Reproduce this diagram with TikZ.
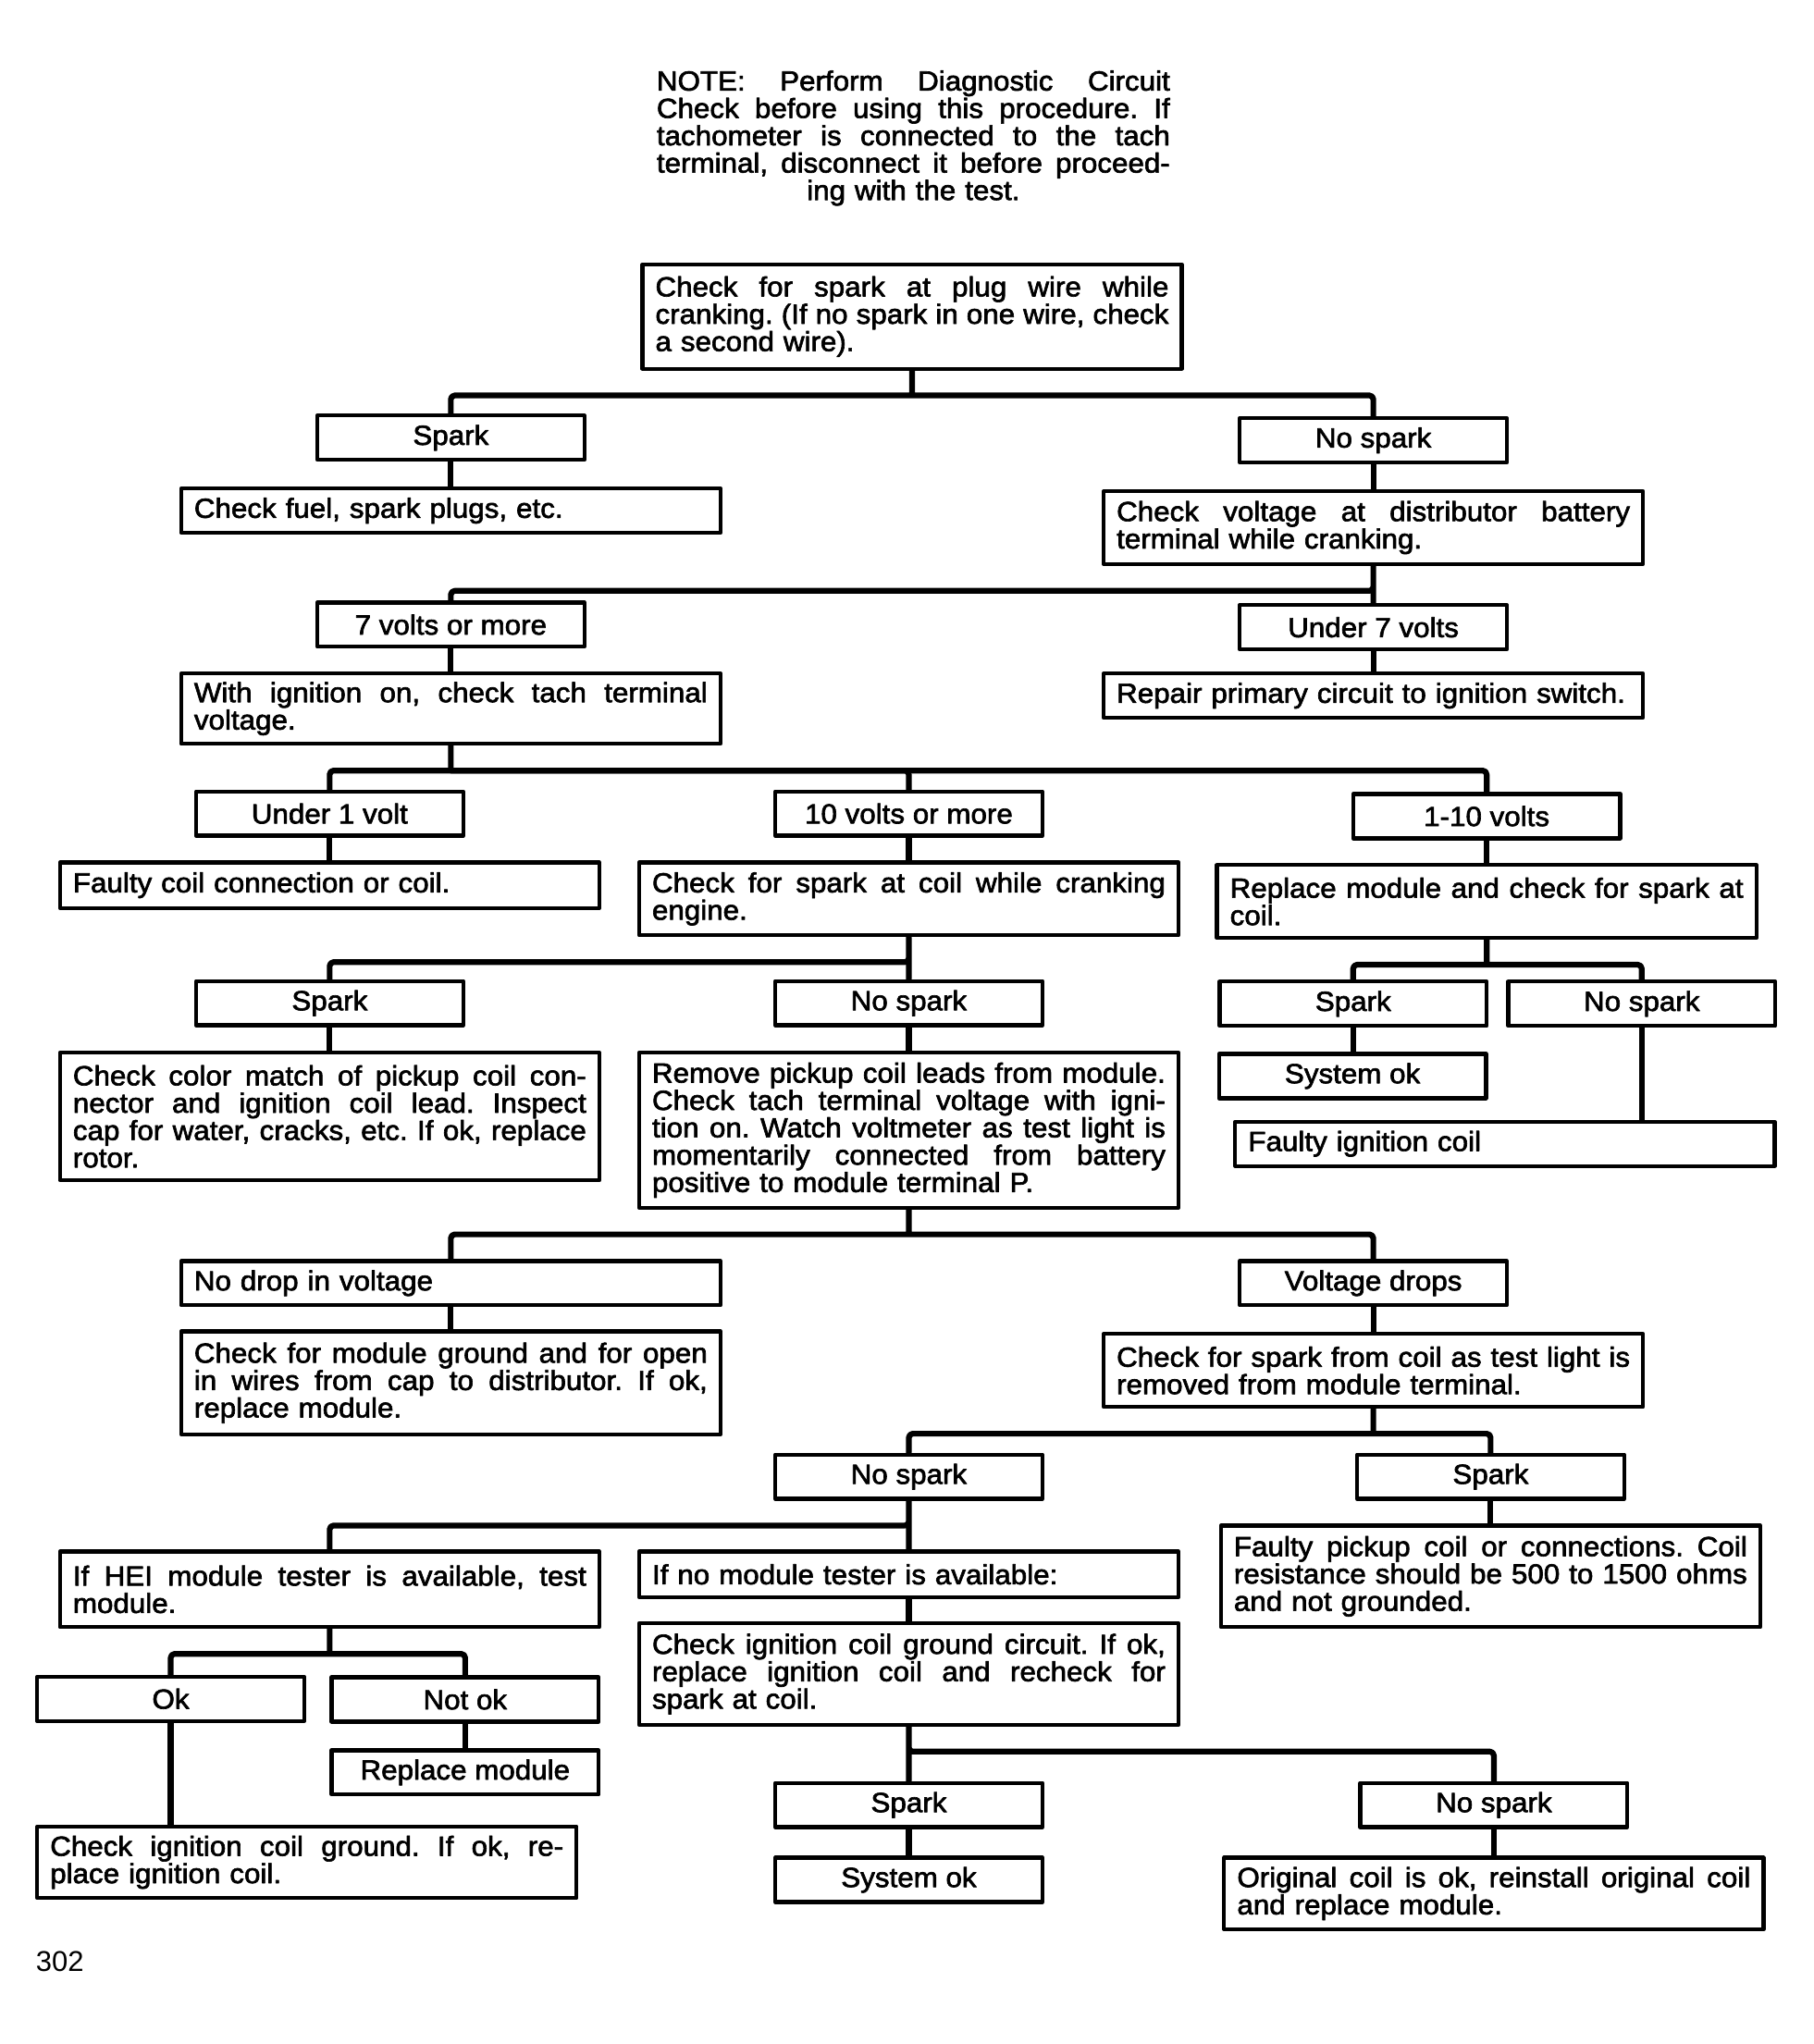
\documentclass[tikz,border=0pt]{standalone}
\usepackage{fontspec}
\setmainfont{Liberation Sans}[FakeStretch=1.05,UprightFeatures={FakeBold=2.2}]
\newfontfamily\plainfont{Liberation Sans}
\newcommand{\jl}[1]{\makebox[197pt][s]{\spaceskip=0pt\xspaceskip=0pt #1}\\}
\tikzset{
  box/.style={draw, line width=1.5pt, inner xsep=5pt, inner ysep=0pt},
  wide/.style={box, text width=197pt, align=left, minimum height=#1},
  lab/.style={box, minimum width=102.5pt, minimum height=17pt, align=center},
  wire/.style={line width=2.2pt, rounded corners=1.5pt}
}
\begin{document}
\frenchspacing
\begin{tikzpicture}[x=0.5pt,y=-0.5pt,line join=round,line cap=round,font=\fontsize{10.6}{10.5}\selectfont]
\useasboundingbox (0,0) rectangle (1392,1569);
\node[text width=197pt, align=left, inner sep=0pt] (note) at (701,106) {\jl{NOTE: Perform Diagnostic Circuit}\jl{Check before using this procedure. If}\jl{tachometer is connected to the tach}\jl{terminal, disconnect it before proceed-}\makebox[197pt][c]{ing with the test.}};
\node[wide=40pt] (check) at (700,243) {\jl{Check for spark at plug wire while}\jl{cranking. (If no spark in one wire, check}a second wire).};
\node[lab] (spark) at (346,336) {Spark};
\node[lab] (nospark) at (1054,338) {No spark};
\node[wide=17pt] (fuel) at (346,392) {Check fuel, spark plugs, etc.};
\node[wide=28pt] (battery) at (1054,405) {\jl{Check voltage at distributor battery}terminal while cranking.};
\node[lab] (seven) at (346,479.5) {7 volts or more};
\node[lab] (under7) at (1054,481.5) {Under 7 volts};
\node[wide=27pt] (tach) at (346,544) {\jl{With ignition on, check tach terminal}voltage.};
\node[wide=17pt] (repair) at (1054,534) {Repair primary circuit to ignition switch.};
\node[lab] (under1) at (253,624.5) {Under 1 volt};
\node[lab] (ten) at (697.5,624.5) {10 volts or more};
\node[lab] (oneten) at (1141,626.5) {1-10 volts};
\node[wide=17.5pt] (conn) at (253,679.5) {Faulty coil connection or coil.};
\node[wide=28pt] (coil) at (697.5,690) {\jl{Check for spark at coil while cranking}engine.};
\node[wide=28pt] (module) at (1141,692) {\jl{Replace module and check for spark at}coil.};
\node[lab] (sparkb) at (253,770) {Spark};
\node[lab] (nosparkb) at (697.5,770) {No spark};
\node[lab] (sparkc) at (1038.5,770.5) {Spark};
\node[lab] (nosparkc) at (1260,770.5) {No spark};
\node[lab] (sysok) at (1038,826) {System ok};
\node[wide=17pt] (ignition) at (1155,878) {Faulty ignition coil};
\node[wide=49pt] (color) at (253,857) {\jl{Check color match of pickup coil con-}\jl{nector and ignition coil lead. Inspect}\jl{cap for water, cracks, etc. If ok, replace}rotor.};
\node[wide=59.5pt] (pickup) at (697.5,867.5) {\jl{Remove pickup coil leads from module.}\jl{Check tach terminal voltage with igni-}\jl{tion on. Watch voltmeter as test light is}\jl{momentarily connected from battery}positive to module terminal P.};
\node[wide=17pt] (nodrop) at (346,985) {No drop in voltage};
\node[lab] (drops) at (1054,985) {Voltage drops};
\node[wide=39.5pt] (ground) at (346,1061.5) {\jl{Check for module ground and for open}\jl{in wires from cap to distributor. If ok,}replace module.};
\node[wide=28pt] (removed) at (1054,1052) {\jl{Check for spark from coil as test light is}removed from module terminal.};
\node[lab] (nosparkd) at (697.5,1133.5) {No spark};
\node[lab] (sparkd) at (1144,1133.5) {Spark};
\node[wide=39pt] (resist) at (1144,1210) {\jl{Faulty pickup coil or connections. Coil}\jl{resistance should be 500 to 1500 ohms}and not grounded.};
\node[wide=29pt] (hei) at (253,1220) {\jl{If HEI module tester is available, test}module.};
\node[wide=17.5pt] (notester) at (697.5,1208.5) {If no module tester is available:};
\node[wide=39pt] (circuit) at (697.5,1285) {\jl{Check ignition coil ground circuit. If ok,}\jl{replace ignition coil and recheck for}spark at coil.};
\node[lab] (ok) at (131,1304) {Ok};
\node[lab] (notok) at (357,1304.5) {Not ok};
\node[lab] (replace) at (357,1360.5) {Replace module};
\node[wide=27.5pt] (coilground) at (235.5,1429.5) {\jl{Check ignition coil ground. If ok, re-}place ignition coil.};
\node[lab] (sparke) at (697.5,1385.5) {Spark};
\node[lab] (nosparke) at (1146.5,1385.5) {No spark};
\node[lab] (sysoke) at (697.5,1443) {System ok};
\node[wide=27.5pt] (original) at (1146.5,1453.5) {\jl{Original coil is ok, reinstall original coil}and replace module.};
\node[inner sep=0pt, font=\plainfont\fontsize{11}{11}\selectfont] (page) at (46,1506) {302};
\foreach \p/\l/\r in {check/spark/nospark, battery/seven/under7, tach/under1/oneten, coil/sparkb/nosparkb, module/sparkc/nosparkc, pickup/nodrop/drops, removed/nosparkd/sparkd, nosparkd/hei/notester, hei/ok/notok, circuit/sparke/nosparke}
  \draw[wire] (\p.south) -- ++(0,19) coordinate (j) (\l.north) |- (j) -| (\r.north);
\coordinate (tbus) at ([yshift=-9.5pt]tach.south);
\draw[wire] (ten.north) |- (tbus);
\foreach \a/\b in {spark/fuel, nospark/battery, seven/tach, under7/repair, under1/conn, ten/coil, oneten/module, sparkb/color, nosparkb/pickup, sparkc/sysok, nosparkc/ignition, nodrop/ground, drops/removed, sparkd/resist, notester/circuit, ok/coilground, notok/replace, sparke/sysoke, nosparke/original}
  \draw[wire] (\a.south) -- (\a.south |- \b.north);
\end{tikzpicture}
\end{document}
